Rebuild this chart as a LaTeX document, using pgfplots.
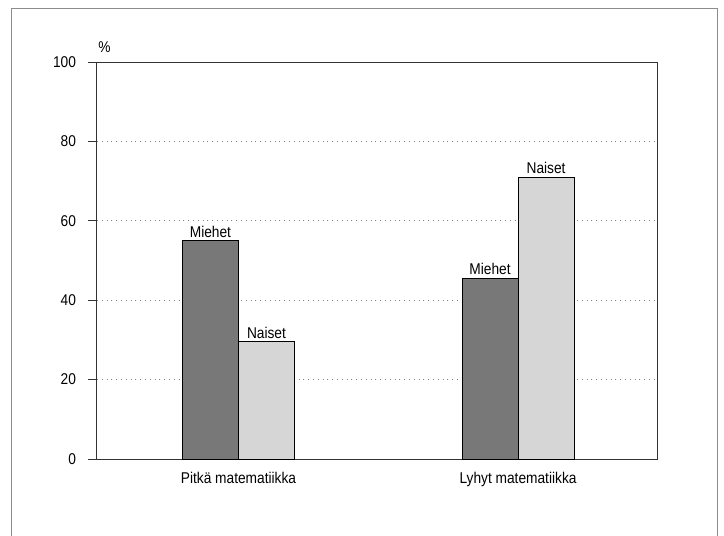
\documentclass[border=0pt]{standalone}
\usepackage{fontspec}
\setmainfont{Liberation Sans}[FakeStretch=0.88]
\usepackage{pgfplots}
\pgfplotsset{compat=1.18}
\definecolor{framecol}{gray}{0.55}
\definecolor{darkbar}{gray}{0.47}
\definecolor{lightbar}{gray}{0.84}
\begin{document}
\begin{tikzpicture}[font=\fontsize{7.8}{9.4}\selectfont]
\path[use as bounding box] (0,0) rectangle (362pt,-268pt);
\draw[framecol, line width=0.5pt] (5.5pt,-4pt) rectangle (358.5pt,-290pt);
\begin{axis}[
  at={(48.5pt,-229.5pt)}, anchor=south west,
  scale only axis, width=280pt, height=198.5pt,
  xmin=-0.506, xmax=1.497, ymin=0, ymax=100,
  ybar=0pt, bar width=28pt,
  ytick={0,20,40,60,80,100}, ytick pos=left,
  xtick={0,1}, xticklabels={Pitkä matematiikka, Lyhyt matematiikka},
  axis line style={black!80, line width=0.5pt},
  tick align=outside, major tick length=4.5pt,
  y tick style={black!80, line width=0.5pt},
  x tick style={draw=none},
  ymajorgrids, grid style={dotted, gray, line width=0.5pt},
  /pgf/number format/assume math mode=true,
  yticklabel style={xshift=-2.5pt},
  xticklabel style={yshift=1.5pt},
  every node near coord/.append style={font=\fontsize{7.8}{9.4}\selectfont, inner sep=1.5pt},
  clip=false,
]
\addplot[draw=black, line width=0.5pt, fill=darkbar, nodes near coords={Miehet}]
  coordinates {(0,55) (1,45.5)};
\addplot[draw=black, line width=0.5pt, fill=lightbar, nodes near coords={Naiset}]
  coordinates {(0,29.5) (1,71)};
\node[anchor=south west, inner sep=0pt] at (rel axis cs:0,1) [yshift=4.5pt, xshift=0.5pt] {\%};
\end{axis}
\end{tikzpicture}
\end{document}
